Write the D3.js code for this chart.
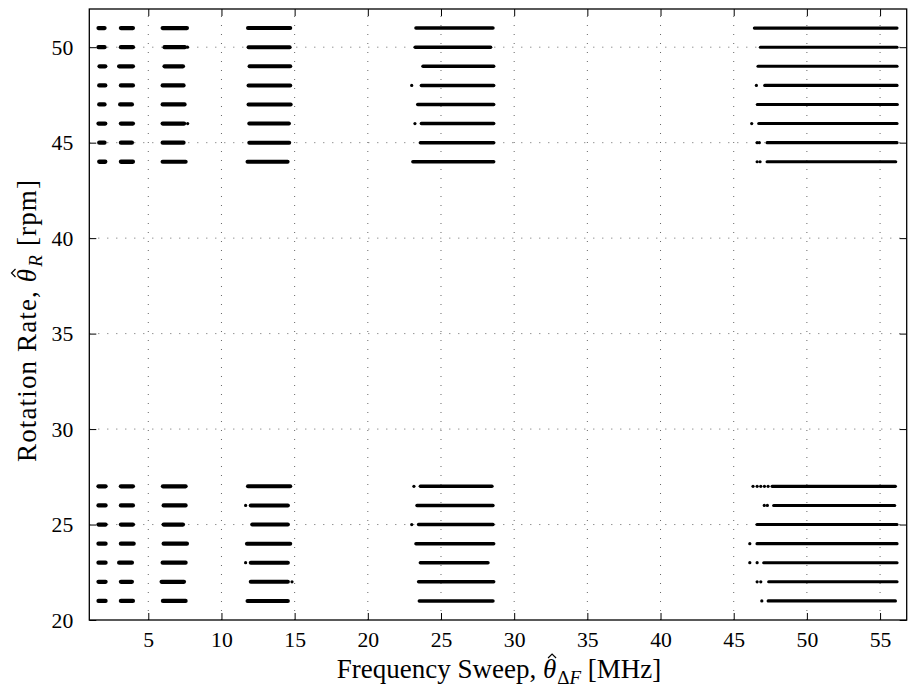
<!DOCTYPE html>
<html>
<head>
<meta charset="utf-8">
<script src="https://cdn.jsdelivr.net/npm/d3@7"></script>
<style>
  body { margin: 0; background: #fff; }
  svg { display: block; }
  text { font-family: "Liberation Serif", "DejaVu Serif", serif; fill: #000; }
</style>
</head>
<body>
<div id="chart"></div>
<script>
// rotation rates (rows), top group then bottom group
const rates = [51, 50, 49, 48, 47, 46, 45, 44, 27, 26, 25, 24, 23, 22, 21];

// [start, end] of frequency-sweep estimates for each rate, one array per cluster
const clusterA = [[1.60,2.01],[1.60,2.01],[1.67,2.06],[1.65,2.06],[1.65,2.01],[1.60,2.06],[1.65,2.01],[1.65,2.06],
                  [1.60,2.08],[1.60,2.08],[1.60,2.08],[1.60,2.08],[1.60,2.08],[1.60,2.08],[1.60,2.08]];
const clusterB = [[3.13,3.95],[3.13,3.95],[3.01,3.95],[3.13,3.95],[3.08,3.88],[3.13,3.95],[3.13,3.88],[3.13,3.95],
                  [3.13,3.95],[3.13,3.95],[3.13,3.95],[3.13,4.00],[3.01,3.88],[3.13,3.88],[3.13,3.95]];
const clusterC = [[5.98,7.64],[6.11,7.50],[6.11,7.37],[5.98,7.41],[5.98,7.48],[5.98,7.45],[5.98,7.41],[5.98,7.55],
                  [6.00,7.55],[6.05,7.55],[6.05,7.37],[6.05,7.64],[5.98,7.55],[5.91,7.44],[6.00,7.55]];
const clusterD = [[11.81,14.70],[11.85,14.66],[11.92,14.70],[11.85,14.70],[11.85,14.73],[11.90,14.61],[11.90,14.63],[11.78,14.52],
                  [11.81,14.70],[12.00,14.54],[12.10,14.54],[11.74,14.70],[12.00,14.54],[12.00,14.54],[11.78,14.54]];
const clusterE = [[23.29,28.55],[23.24,28.39],[23.77,28.60],[23.66,28.60],[23.41,28.60],[23.66,28.60],[23.59,28.60],[23.08,28.60],
                  [23.59,28.48],[23.36,28.55],[23.47,28.55],[23.29,28.60],[23.59,28.21],[23.47,28.60],[23.52,28.55]];
const clusterF = [[46.41,56.16],[46.82,56.16],[46.66,56.16],[47.12,56.16],[46.61,56.18],[46.71,56.16],[47.28,56.16],[47.28,56.07],
                  [47.62,56.05],[47.73,56.00],[46.59,56.16],[46.59,56.16],[47.05,56.16],[47.39,56.16],[47.35,56.05]];

// isolated estimates [sweep, rate]
const outliers = [[7.68,50],[7.69,46],[11.65,26],[11.65,23],[14.82,22],
                  [23.00,48],[23.22,46],[23.15,27],[23.00,25],
                  [46.55,48],[46.23,46],[46.60,45],[46.75,45],[46.60,44],[46.80,44],
                  [46.32,27],[46.60,27],[46.85,27],[47.10,27],[47.35,27],[47.09,26],[47.30,26],
                  [46.10,24],[46.10,23],[46.60,23],[46.60,22],[46.85,22],[46.92,21]];

const xTicks = [5, 10, 15, 20, 25, 30, 35, 40, 45, 50, 55];
const yTicks = [20, 25, 30, 35, 40, 45, 50];

const W = 914, H = 693;
const plot = {left: 89.3, right: 906.7, top: 9, bottom: 620};

const svg = d3.select("#chart").append("svg")
  .attr("width", W).attr("height", H);

const x = d3.scaleLinear().domain([0.97, 56.82]).range([plot.left, plot.right]);
const y = d3.scaleLinear().domain([20, 52]).range([plot.bottom, plot.top]);

// dotted grid
const grid = svg.append("g")
  .attr("stroke", "#555").attr("stroke-width", 0.9)
  .attr("stroke-dasharray", "1,8").attr("fill", "none");
grid.selectAll("line.gx").data(xTicks).enter().append("line")
  .attr("x1", d => x(d)).attr("x2", d => x(d))
  .attr("y1", plot.bottom).attr("y2", plot.top);
grid.selectAll("line.gy").data(yTicks.filter(d => d > 20)).enter().append("line")
  .attr("y1", d => y(d)).attr("y2", d => y(d))
  .attr("x1", plot.left).attr("x2", plot.right);

// clusters drawn as dense runs of estimates
const clusters = [
  {data: clusterA, w: 4.3}, {data: clusterB, w: 4.3}, {data: clusterC, w: 4.2},
  {data: clusterD, w: 4.0}, {data: clusterE, w: 3.5}, {data: clusterF, w: 3.1}
];
const marks = svg.append("g").attr("stroke", "#000").attr("stroke-linecap", "round");
clusters.forEach(c => {
  marks.append("g").attr("stroke-width", c.w)
    .selectAll("line").data(c.data).enter().append("line")
    .attr("x1", d => x(d[0])).attr("x2", d => x(d[1]))
    .attr("y1", (d, i) => y(rates[i])).attr("y2", (d, i) => y(rates[i]));
});
svg.append("g").selectAll("circle").data(outliers).enter().append("circle")
  .attr("cx", d => x(d[0])).attr("cy", d => y(d[1])).attr("r", 1.6).attr("fill", "#000");

// axes: ticks inward on all four sides
const tickLen = 7;
const bottomAxis = d3.axisBottom(x).tickValues(xTicks).tickSizeInner(-tickLen).tickSizeOuter(0).tickPadding(12);
const topAxis = d3.axisTop(x).tickValues(xTicks).tickSizeInner(-tickLen).tickSizeOuter(0).tickFormat("");
const leftAxis = d3.axisLeft(y).tickValues(yTicks).tickSizeInner(-tickLen).tickSizeOuter(0).tickPadding(16);
const rightAxis = d3.axisRight(y).tickValues(yTicks).tickSizeInner(-tickLen).tickSizeOuter(0).tickFormat("");

function styleAxis(g) {
  g.select(".domain").remove();
  g.selectAll(".tick line").attr("stroke", "#000").attr("stroke-width", 1);
  g.selectAll(".tick text").style("font-family", '"Liberation Serif", serif').style("font-size", "21.7px");
}
svg.append("g").attr("transform", `translate(0,${plot.bottom})`).call(bottomAxis).call(styleAxis);
svg.append("g").attr("transform", `translate(0,${plot.top})`).call(topAxis).call(styleAxis);
svg.append("g").attr("transform", `translate(${plot.left},0)`).call(leftAxis).call(styleAxis)
  .selectAll(".tick text").attr("dy", "0.33em");
svg.append("g").attr("transform", `translate(${plot.right},0)`).call(rightAxis).call(styleAxis);

// frame
svg.append("rect")
  .attr("x", plot.left).attr("y", plot.top)
  .attr("width", plot.right - plot.left).attr("height", plot.bottom - plot.top)
  .attr("fill", "none").attr("stroke", "#000").attr("stroke-width", 1.3);

// draw a small hat over the character at index idx of a text element
function addHat(g, textSel, idx) {
  const node = textSel.node();
  const a = node.getStartPositionOfChar(idx);
  const b = node.getEndPositionOfChar(idx);
  const cx = (a.x + b.x) / 2 + 2.5, top = a.y - 24;
  g.append("path")
    .attr("d", `M${cx - 4},${top + 4}L${cx},${top}L${cx + 4},${top + 4}`)
    .attr("fill", "none").attr("stroke", "#000").attr("stroke-width", 1.2);
}

// axis labels
const xg = svg.append("g").attr("transform", "translate(499,678)");
const xl = xg.append("text").attr("text-anchor", "middle").style("font-size", "27px");
xl.append("tspan").text("Frequency Sweep, ");
xl.append("tspan").style("font-style", "italic").text("\u03B8");
xl.append("tspan").attr("dx", 1).attr("dy", 6).style("font-size", "19px").text("\u0394");
xl.append("tspan").style("font-size", "19px").style("font-style", "italic").text("F");
xl.append("tspan").attr("dy", -6).text(" [MHz]");
addHat(xg, xl, 17);

const yg = svg.append("g").attr("transform", "translate(35.5,321) rotate(-90)");
const yl = yg.append("text")
  .attr("text-anchor", "middle")
  .attr("textLength", 282).attr("lengthAdjust", "spacing")
  .style("font-size", "27px");
yl.append("tspan").text("Rotation Rate, ");
yl.append("tspan").style("font-style", "italic").text("\u03B8");
yl.append("tspan").attr("dx", 1).attr("dy", 6).style("font-size", "19px").style("font-style", "italic").text("R");
yl.append("tspan").attr("dy", -6).text(" [rpm]");
addHat(yg, yl, 15);
</script>
</body>
</html>
